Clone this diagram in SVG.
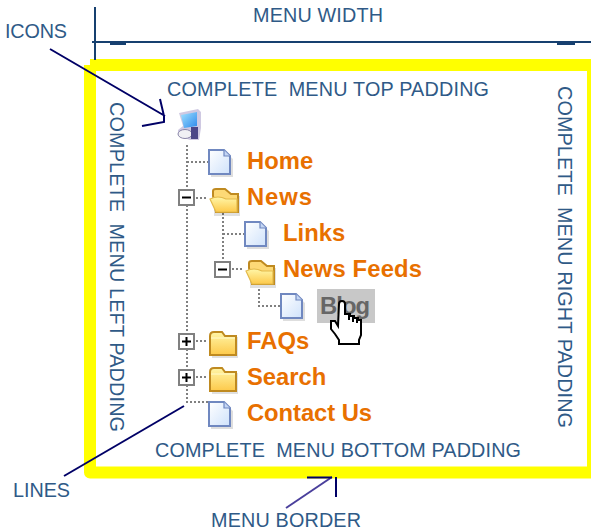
<svg xmlns="http://www.w3.org/2000/svg" width="591" height="532" viewBox="0 0 591 532">
<style>
text{font-family:"Liberation Sans",Arial,sans-serif}
.l{font-size:19.8px;fill:#2f5a87;white-space:pre}
.m{font-size:23.8px;font-weight:bold;fill:#e87000}
.d{fill:none;stroke:#808080;stroke-width:2;stroke-dasharray:2 2}
.a{fill:none;stroke:#000066;stroke-width:2}
.s{fill:none;stroke:#17406f;stroke-width:2}
.b{fill:#fff;stroke:#808080;stroke-width:2}
.k{fill:none;stroke:#000;stroke-width:2}
</style>
<defs>
<linearGradient id="pg" x1="0" y1="0" x2="1" y2="1"><stop offset="0" stop-color="#fff"/><stop offset="1" stop-color="#cfe2fb"/></linearGradient>
<linearGradient id="fg" x1="0" y1="0" x2="0" y2="1"><stop offset="0" stop-color="#fff6a8"/><stop offset="1" stop-color="#fdc94a"/></linearGradient>
<linearGradient id="sg" x1="0" y1="0" x2="1" y2="1"><stop offset="0" stop-color="#9fe2ff"/><stop offset="1" stop-color="#2f8aec"/></linearGradient>
<g id="page">
<path d="M2 2H16L24 9V27H2Z" fill="#000" opacity=".13"/>
<path d="M0 0H15L21 6V24H0Z" fill="url(#pg)" stroke="#7088c0" stroke-width="2"/>
<path d="M15 0V6H21" fill="#c4d6f4" stroke="#7088c0" stroke-width="1.200"/>
</g>
<g id="folder">
<path d="M3 6H29V27H3Z" fill="#000" opacity=".12"/>
<path d="M1 5Q1 1 5 1H13L16 5H27V24H1Z" fill="url(#fg)" stroke="#bf8a20" stroke-width="2"/>
<path d="M2 7H26" stroke="#fff6b8" stroke-width="1.500" fill="none"/>
</g>
<g id="ofolder">
<path d="M4 8H30V28H4Z" fill="#000" opacity=".12"/>
<path d="M3 8V3Q3 1 6 1H15L21 6H28V24H6Z" fill="#fdd976" stroke="#bf8a20" stroke-width="2"/>
<path d="M0 11Q8 7 16 11H27V24H6Z" fill="url(#fg)" stroke="#e3b94a" stroke-width="1.200"/>
</g>
</defs>

<path id="menu-border" d="M90 65H591M90 65V472.500H591" fill="none" stroke="#ffff00" stroke-width="12" stroke-linejoin="round"/>
<rect x="587" y="71" width="4" height="396" fill="#ffff00"/>

<g id="width-dimension">
<path class="s" d="M95 7V60M92 42H591"/>
<rect x="110" y="42" width="16" height="3" fill="#17406f"/>
<rect x="557" y="42" width="18" height="3" fill="#17406f"/>
<text class="l" x="253" y="22" textLength="130">MENU WIDTH</text>
</g>

<g id="padding-labels">
<text class="l" x="167" y="96" textLength="322" xml:space="preserve">COMPLETE  MENU TOP PADDING</text>
<text class="l" x="155" y="457" textLength="366" xml:space="preserve">COMPLETE  MENU BOTTOM PADDING</text>
<text class="l" transform="translate(110 102) rotate(90)" textLength="330" xml:space="preserve">COMPLETE  MENU LEFT PADDING</text>
<text class="l" transform="translate(558 86) rotate(90)" textLength="342" xml:space="preserve">COMPLETE  MENU RIGHT PADDING</text>
</g>

<g id="connectors">
<path class="d" d="M187 145V402H208"/>
<path class="d" d="M187 162H208M196 198H208M196 341H208M196 377H208"/>
<path class="d" d="M223 213V259M223 234H244M232 269H244"/>
<path class="d" d="M259 289V306H280"/>
<path class="a" d="M50 49L165 116M160 99L164 116V122L142 126"/>
<path class="a" d="M184 406L64 476"/>
<path d="M286 508L332 477" fill="none" stroke="#4a3f9c" stroke-width="2"/>
<path class="a" d="M307 477.500H332M336 477V497"/>
</g>

<g id="node-root">
<path d="M179 113L198 109L201 112V128L199 140H190L178 136V130L183 126Z" fill="#cfc9e2"/>
<path d="M181 115L197 112V126L184 128Z" fill="url(#sg)"/>
<ellipse cx="185" cy="134" rx="7" ry="4.500" fill="#f0f0f4" stroke="#8a86a8"/>
<path d="M191 127H198V139H191Z" fill="#4c4688"/>
</g>
<g id="node-home"><use href="#page" x="209" y="150"/><text class="m" x="247" y="169">Home</text></g>
<g id="node-news">
<rect class="b" x="179" y="190" width="15" height="15"/><path class="k" d="M182 197.500H191"/>
<use href="#ofolder" x="210" y="188"/><text class="m" x="247" y="205" textLength="65">News</text></g>
<g id="node-links"><use href="#page" x="245" y="222"/><text class="m" x="283" y="241">Links</text></g>
<g id="node-news-feeds">
<rect class="b" x="215" y="262" width="15" height="15"/><path class="k" d="M218 269.500H227"/>
<use href="#ofolder" x="246" y="260"/><text class="m" x="283" y="277" textLength="139">News Feeds</text></g>
<g id="node-blog">
<use href="#page" x="281" y="294"/>
<rect x="317" y="289" width="58" height="34" fill="#c8c8c8"/>
<text class="m" x="320" y="314" textLength="50" style="fill:#666666">Blog</text>
<path d="M339 304Q339 301 342 301T345 304V314H350V316H354V318H358V320H361V335L359 340V344H339V340L335 334L331 329V321H335L338 326Z" fill="#fff" stroke="#000" stroke-width="2"/>
<path class="k" d="M349 314V320M353 316V322M357 318V323" stroke-width="1.500"/>
</g>
<g id="node-faqs">
<rect class="b" x="179" y="334" width="15" height="15"/><path class="k" d="M182 341.500H191M186.500 337V346"/>
<use href="#folder" x="209" y="331"/><text class="m" x="247" y="349">FAQs</text></g>
<g id="node-search">
<rect class="b" x="179" y="370" width="15" height="15"/><path class="k" d="M182 377.500H191M186.500 373V382"/>
<use href="#folder" x="209" y="367"/><text class="m" x="247" y="385">Search</text></g>
<g id="node-contact"><use href="#page" x="209" y="402"/><text class="m" x="247" y="421" textLength="125">Contact Us</text></g>

<g id="callouts">
<text class="l" x="5" y="38" textLength="62">ICONS</text>
<text class="l" x="13" y="497" textLength="57">LINES</text>
<text class="l" x="211" y="527" textLength="150">MENU BORDER</text>
</g>
</svg>
